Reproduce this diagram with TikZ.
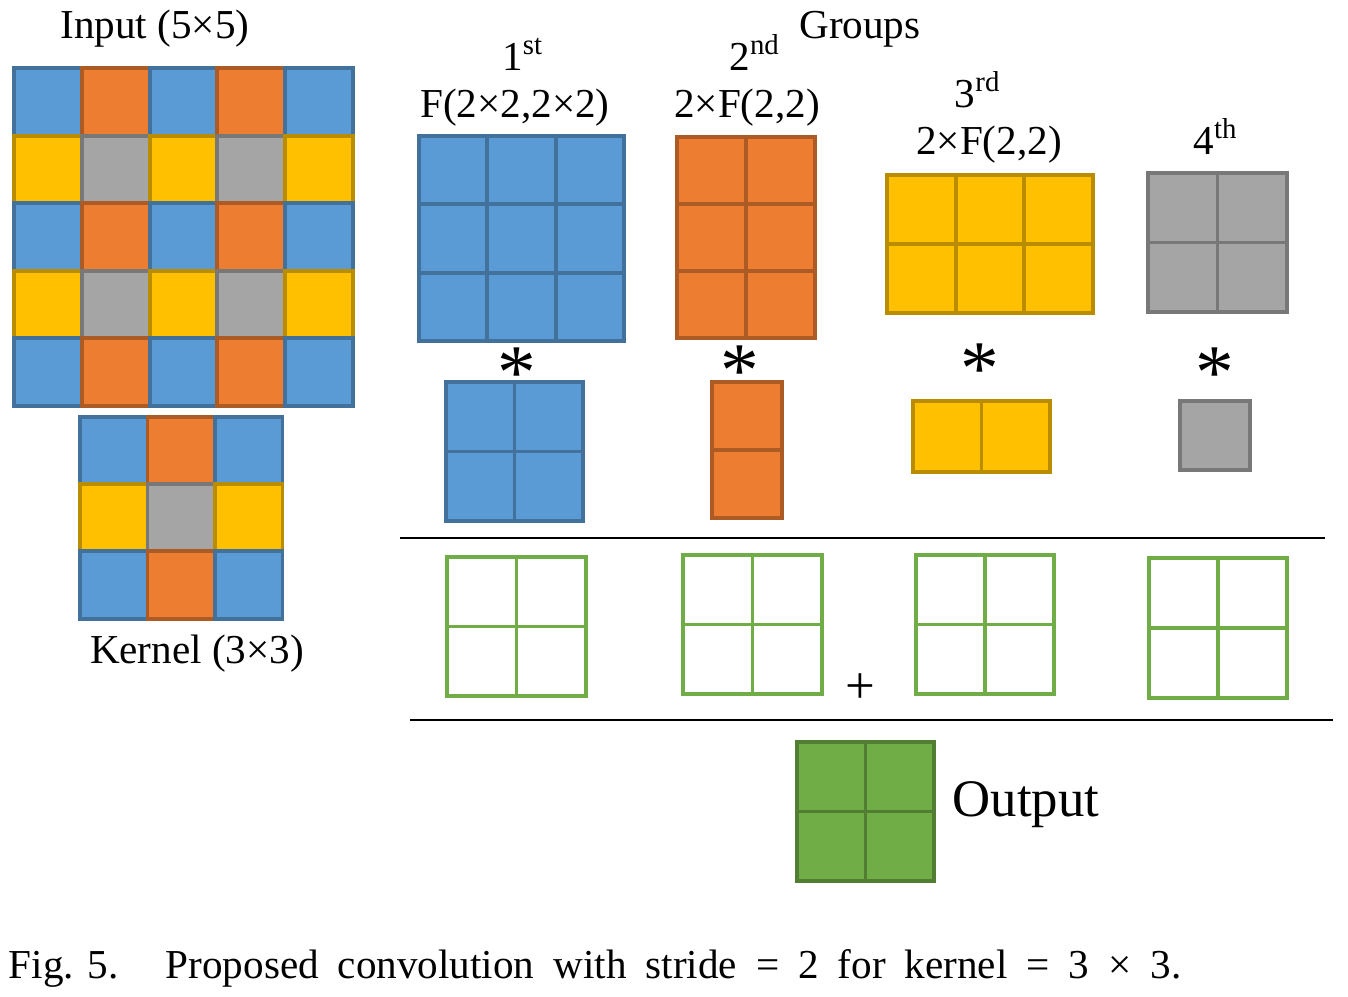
\documentclass[tikz,border=0pt]{standalone}
\usepackage{fontspec}
\setmainfont{Liberation Serif}
\definecolor{cblue}{HTML}{5B9BD5}
\definecolor{corange}{HTML}{ED7D31}
\definecolor{cyellow}{HTML}{FFC000}
\definecolor{cgray}{HTML}{A5A5A5}
\definecolor{cgreen}{HTML}{70AD47}
% #1,#2 top left corner, #3 cols, #4 rows, #5 cell width, #6 cell height, #7 fill, #8 border
\newcommand{\drawgrid}[8]{
  \foreach \i in {1,...,#3}{
    \foreach \j in {1,...,#4}{
      \draw[cell,fill=#7,draw=#8] ({#1+(\i-1)*#5},{#2+(\j-1)*#6}) rectangle ++(#5,#6);
    }
  }
}
\tikzset{
  cell/.style={line width=1.1pt},
  lbl/.style={font=\fontsize{11.7}{14}\selectfont, inner sep=0pt, anchor=base},
  star/.style={font=\fontsize{22}{22}\selectfont, inner sep=0pt}
}

\begin{document}
\begin{tikzpicture}[x=0.01cm,y=-0.01cm]
      \useasboundingbox (0,0) rectangle (1348,996);

      % input and kernel
      \node[lbl] (input) at (155,38) {Input (5×5)};
      \foreach \j/\ca/\cb in {0/cblue/corange,1/cyellow/cgray,2/cblue/corange,3/cyellow/cgray,4/cblue/corange}{
        \foreach \i/\c in {0/\ca,1/\cb,2/\ca,3/\cb,4/\ca}{
          \draw[cell,fill=\c,draw=\c!73!black] ({14+\i*67.8},{68+\j*67.6}) rectangle ++(67.8,67.6);
        }
      }
      \foreach \j/\ca/\cb in {0/cblue/corange,1/cyellow/cgray,2/cblue/corange}{
        \foreach \i/\c in {0/\ca,1/\cb,2/\ca}{
          \draw[cell,fill=\c,draw=\c!73!black] ({80+\i*67.5},{417+\j*67.2}) rectangle ++(67.5,67.2);
        }
      }
      \node[lbl] (kernel) at (197,663) {Kernel (3×3)};

      % groups
      \node[lbl] (groups) at (860,38) {Groups};
      \node[lbl] (first) at (523,70) {1\textsuperscript{st}};
      \node[lbl] (firstf) at (515,117) {F(2×2,2×2)};
      \drawgrid{419}{136}{3}{3}{68.3}{68.3}{cblue}{cblue!73!black}
      \node[lbl] (second) at (755,70) {2\textsuperscript{nd}};
      \node[lbl] (secondf) at (747,117) {2×F(2,2)};
      \drawgrid{677}{137}{2}{3}{69}{67}{corange}{corange!73!black}
      \node[lbl] (third) at (978,107) {3\textsuperscript{rd}};
      \node[lbl] (thirdf) at (989,154) {2×F(2,2)};
      \drawgrid{887}{175}{3}{2}{68.7}{69}{cyellow}{cyellow!73!black}
      \node[lbl] (fourth) at (1216,154) {4\textsuperscript{th}};
      \drawgrid{1148}{173}{2}{2}{69.5}{69.5}{cgray}{cgray!73!black}

      \node[star] (ast1) at (517,373) {*};
      \node[star] (ast2) at (740,371) {*};
      \node[star] (ast3) at (980,369) {*};
      \node[star] (ast4) at (1215,373) {*};

      \drawgrid{446}{382}{2}{2}{68.5}{69.5}{cblue}{cblue!73!black}
      \drawgrid{712}{382}{1}{2}{70}{68}{corange}{corange!73!black}
      \drawgrid{913}{401}{2}{1}{68.5}{71}{cyellow}{cyellow!73!black}
      \drawgrid{1180}{401}{1}{1}{70}{69}{cgray}{cgray!73!black}

      \draw[line width=0.8pt] (400,538) -- (1325,538);

      % partial results
      \drawgrid{447}{557}{2}{2}{69.5}{69.5}{white}{cgreen}
      \drawgrid{683}{555}{2}{2}{69.5}{69.5}{white}{cgreen}
      \drawgrid{916}{555}{2}{2}{69}{69.5}{white}{cgreen}
      \drawgrid{1149}{558}{2}{2}{69}{70}{white}{cgreen}
      \node[font=\fontsize{15}{15}\selectfont, inner sep=0pt] (plus) at (860,689) {+};

      \draw[line width=0.8pt] (410,720) -- (1333,720);

      % output
      \drawgrid{797}{742}{2}{2}{68.5}{69.5}{cgreen}{cgreen!73!black}
      \node[font=\fontsize{15}{18}\selectfont, inner sep=0pt, anchor=base west] (output) at (952,816) {Output};

      \node[lbl, anchor=base west] (caption) at (8,978) {\makebox[1.57cm][l]{Fig. 5.}\spaceskip=5.4pt Proposed convolution with stride = 2 for kernel = 3 × 3.};
\end{tikzpicture}
\end{document}
